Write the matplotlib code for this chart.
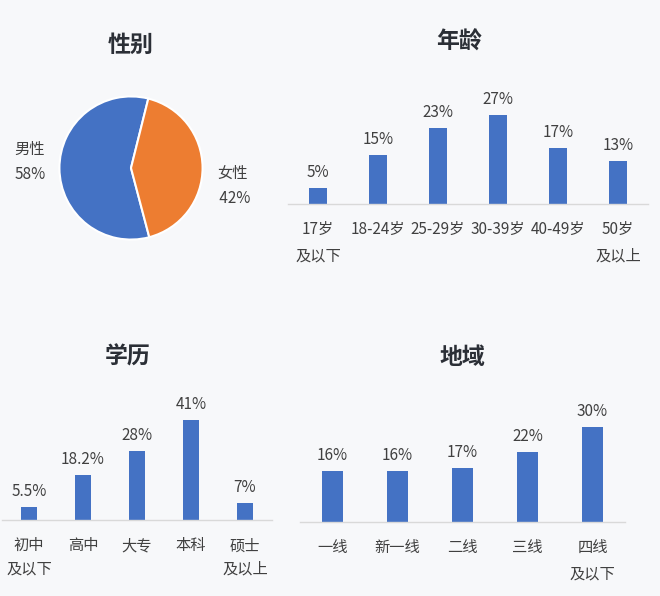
import matplotlib
matplotlib.use("Agg")
import matplotlib.pyplot as plt

plt.rcParams['font.family'] = ['Noto Sans CJK SC', 'DejaVu Sans']

W, H = 660, 596
BG = '#f7f8fa'
BLUE = '#4472c4'
ORANGE = '#ed7d31'
TXT = '#404040'
TITLE = '#2b2f36'

# data
gender_labels = ['男性', '女性']
gender_values = [58, 42]

age_labels = ['17岁\n及以下', '18-24岁', '25-29岁', '30-39岁', '40-49岁', '50岁\n及以上']
age_values = [5, 15, 23, 27, 17, 13]
age_text = ['5%', '15%', '23%', '27%', '17%', '13%']

edu_labels = ['初中\n及以下', '高中', '大专', '本科', '硕士\n及以上']
edu_values = [5.5, 18.2, 28, 41, 7]
edu_text = ['5.5%', '18.2%', '28%', '41%', '7%']

region_labels = ['一线', '新一线', '二线', '三线', '四线\n及以下']
region_values = [16, 16, 17, 22, 30]
region_text = ['16%', '16%', '17%', '22%', '30%']


def fx(x):
    return x / W


def fy(y):
    return 1 - y / H


fig = plt.figure(figsize=(W / 100, H / 100), dpi=100)
fig.patch.set_facecolor(BG)

# titles
for t, x, y in [('性别', 131, 45), ('年龄', 459, 42), ('学历', 128, 357), ('地域', 462, 357)]:
    fig.text(fx(x), fy(y), t, fontsize=16.5, fontweight='bold', color=TITLE,
             ha='center', va='center')

# pie
ax = fig.add_axes([fx(131 - 73), fy(168 + 73), 146 / W, 146 / H])
ax.pie(gender_values, colors=[BLUE, ORANGE], startangle=76, counterclock=True,
       wedgeprops=dict(edgecolor='white', linewidth=1.5))
ax.set_xlim(-1.02, 1.02)
ax.set_ylim(-1.02, 1.02)
ax.set_aspect('equal')
fig.text(fx(30), fy(162), gender_labels[0] + '\n' + '%d%%' % gender_values[0],
         fontsize=11, color=TXT, ha='center', va='center', linespacing=1.6)
fig.text(fx(233), fy(186), gender_labels[1] + '\n ' + '%d%%' % gender_values[1],
         fontsize=11, color=TXT, ha='center', va='center', linespacing=1.6)


def bar_panel(rect, labels, values, texts, ymax, pad, ls):
    ax = fig.add_axes(rect)
    ax.set_facecolor('none')
    x = list(range(len(values)))
    ax.bar(x, values, width=0.31, color=BLUE)
    for xi, v, t in zip(x, values, texts):
        ax.annotate(t, (xi, v), xytext=(0, 5), textcoords='offset points',
                    ha='center', va='bottom', fontsize=11, color=TXT)
    ax.set_xlim(-0.5, len(values) - 0.5)
    ax.set_ylim(0, ymax)
    ax.set_xticks(x)
    ax.set_xticklabels(labels, fontsize=11, color=TXT, linespacing=ls, va='top')
    ax.tick_params(axis='x', length=0, pad=pad)
    ax.set_yticks([])
    for s in ['top', 'right', 'left']:
        ax.spines[s].set_visible(False)
    ax.spines['bottom'].set_color('#d9d9d9')
    ax.spines['bottom'].set_linewidth(1)
    return ax


# age: baseline y=204, x 288..648, 3.3 px per %
bar_panel([fx(288), fy(204), 360 / W, 110 / H], age_labels, age_values, age_text,
          110 / 3.3, 12, 1.75)
# education: baseline y=520, x 2..272, 2.45 px per %
bar_panel([fx(2), fy(520), 270 / W, 120 / H], edu_labels, edu_values, edu_text,
          120 / 2.45, 12.5, 1.5)
# region: baseline y=522, x 300..625, 3.18 px per %
bar_panel([fx(300), fy(522), 325 / W, 110 / H], region_labels, region_values, region_text,
          110 / 3.18, 12.5, 1.7)

fig.savefig('out.png', dpi=100, facecolor=BG)
